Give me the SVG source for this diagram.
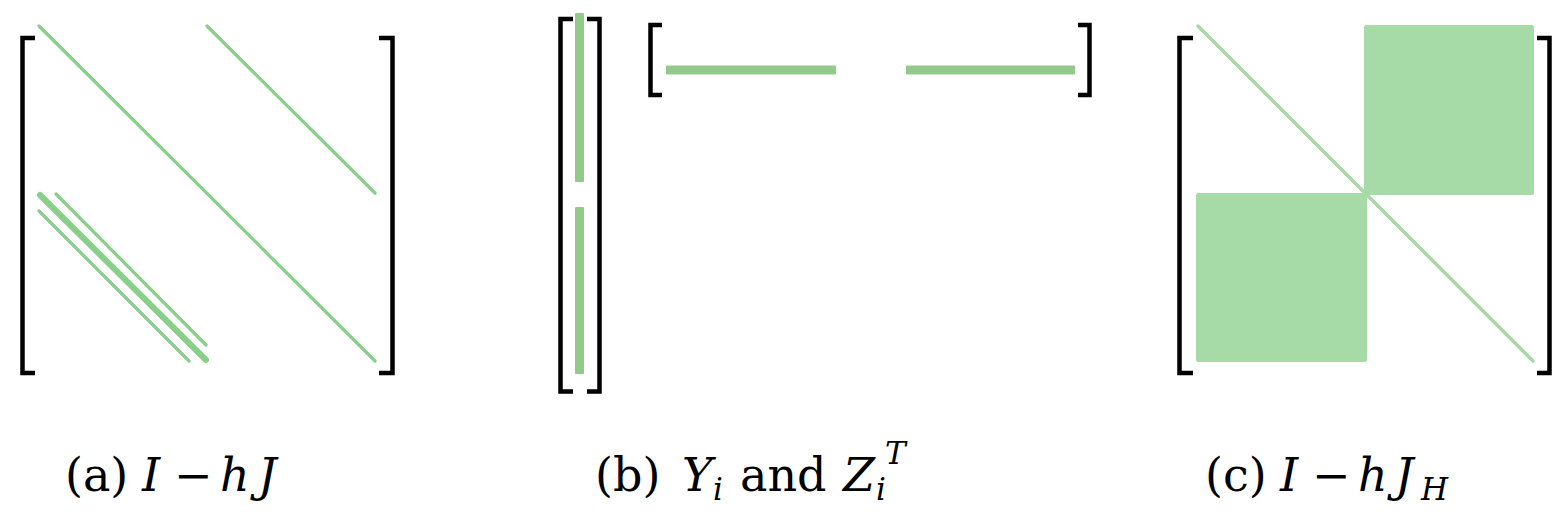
<svg xmlns="http://www.w3.org/2000/svg" width="1566" height="512" viewBox="0 0 1566 512">
<style>
.br{fill:none;stroke:#000;stroke-width:4.5;stroke-linejoin:miter}
.dg{stroke:#88cf88;stroke-width:3.2;stroke-linecap:round;fill:none}
.dgt{stroke:#88cf88;stroke-width:6;stroke-linecap:round;fill:none}
.vb{fill:#93c98b}
.blk{fill:#a6daa6}
.lbl{font-family:"DejaVu Serif","Liberation Serif",serif;font-size:46px;fill:#000}
.it{font-style:italic}
.sub{font-size:31px;font-style:italic}
</style>
<rect width="1566" height="512" fill="#fff"/>
<g id="panel-a">
  <path class="br" d="M35,38 H22.5 V373 H35"/>
  <path class="br" d="M379,38 H392.5 V373 H379"/>
  <line class="dg" x1="39" y1="26" x2="375" y2="361"/>
  <line class="dg" x1="207" y1="26" x2="375" y2="193"/>
  <line class="dgt" x1="40" y1="195" x2="206" y2="360"/>
  <line class="dg" x1="56" y1="194" x2="206" y2="345"/>
  <line class="dg" x1="39" y1="211" x2="189" y2="361"/>
</g>
<g id="panel-b">
  <path class="br" d="M573,19 H560.5 V391.5 H573"/>
  <path class="br" d="M587,19 H599.5 V391.5 H587"/>
  <rect class="vb" x="575" y="13" width="9" height="169" rx="1"/>
  <rect class="vb" x="575" y="207" width="9" height="167" rx="1"/>
  <path class="br" d="M662,25 H650.5 V95 H662"/>
  <path class="br" d="M1078,25 H1089.5 V95 H1078"/>
  <rect class="vb" x="666" y="65.5" width="170" height="9" rx="1"/>
  <rect class="vb" x="906" y="65.5" width="169" height="9" rx="1"/>
</g>
<g id="panel-c">
  <path class="br" d="M1193,38 H1179.5 V373 H1193"/>
  <path class="br" d="M1537,38 H1549.5 V373 H1537"/>
  <rect class="blk" x="1364" y="25" width="170" height="170" rx="2"/>
  <rect class="blk" x="1196" y="193" width="171" height="169" rx="2"/>
  <line class="dg" x1="1198" y1="26" x2="1533" y2="361" style="stroke:#a6daa6;stroke-width:3.5"/>
</g>
<g id="labels">
  <text class="lbl" y="491"><tspan x="65">(a)</tspan><tspan class="it" x="142">I</tspan><tspan x="174">−</tspan><tspan class="it" x="220">h</tspan><tspan class="it" x="258">J</tspan></text>
  <text class="lbl" y="491"><tspan x="595">(b)</tspan><tspan class="it" x="682">Y</tspan><tspan class="sub" x="713" y="500">i</tspan><tspan x="740" y="491">and</tspan><tspan class="it" x="843">Z</tspan><tspan class="sub" x="876" y="500">i</tspan><tspan class="sub" x="885" y="464">T</tspan></text>
  <text class="lbl" y="491"><tspan x="1205">(c)</tspan><tspan class="it" x="1280">I</tspan><tspan x="1312">−</tspan><tspan class="it" x="1358">h</tspan><tspan class="it" x="1395">J</tspan><tspan class="sub" x="1421" y="500">H</tspan></text>
</g>
</svg>
